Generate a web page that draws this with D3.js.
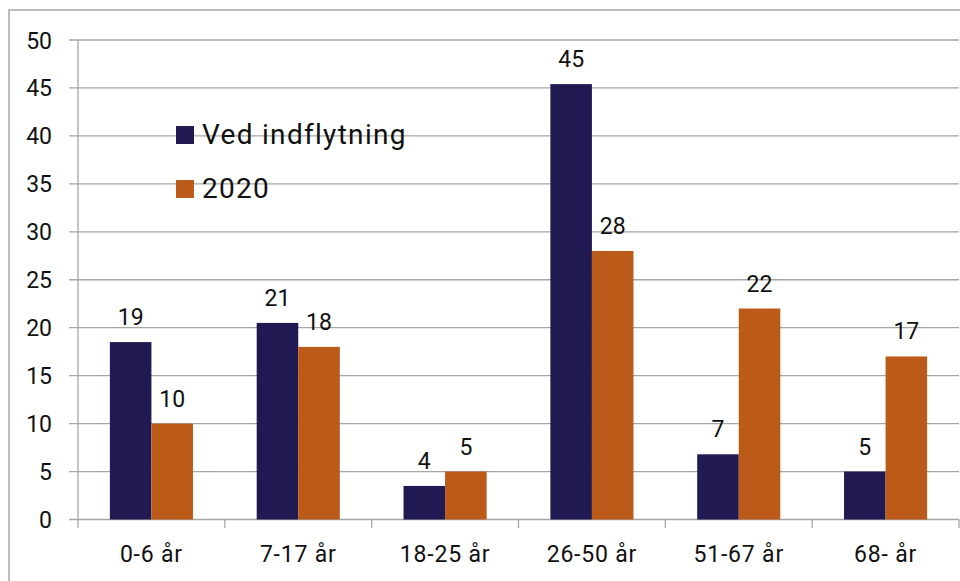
<!DOCTYPE html>
<html>
<head>
<meta charset="utf-8">
<script src="https://cdn.jsdelivr.net/npm/d3@7"></script>
<style>
  body { margin: 0; background: #fff; }
  svg { display: block; font-family: Roboto, "Noto Sans", sans-serif; }
</style>
</head>
<body>
<div class="chart"></div>
<script>
var categories = ["0-6 år", "7-17 år", "18-25 år", "26-50 år", "51-67 år", "68- år"];
var seriesNames = ["Ved indflytning", "2020"];
var vedIndflytning = [18.5, 20.5, 3.5, 45.4, 6.8, 5.0];
var y2020 = [10.0, 18.0, 5.0, 28.0, 22.0, 17.0];
var yTicks = [0, 5, 10, 15, 20, 25, 30, 35, 40, 45, 50];
var colors = ["#211a52", "#bc5a1a"];

(function() {
  var width = 960, height = 581;
  var plotLeft = 78, plotRight = 959, plotTop = 40, plotBottom = 519.5;

  var svg = d3.select(".chart").append("svg")
    .attr("width", width)
    .attr("height", height);

  // outer frame
  svg.append("rect")
    .attr("x", 9).attr("y", 10)
    .attr("width", 1000).attr("height", 700)
    .attr("fill", "none")
    .attr("stroke", "#a6a6a6")
    .attr("stroke-width", 1.5);

  var x0 = d3.scaleBand().domain(categories).range([plotLeft, plotRight]).padding(0);
  var bw = x0.bandwidth();
  var x1 = d3.scaleBand().domain([0, 1]).range([bw * 0.217, bw * 0.783]).padding(0);
  var y = d3.scaleLinear().domain([0, 50]).range([plotBottom, plotTop]);

  // gridlines
  svg.append("g").selectAll("line")
    .data(yTicks)
    .enter().append("line")
    .attr("x1", 69).attr("x2", plotRight)
    .attr("y1", function(d) { return y(d); })
    .attr("y2", function(d) { return y(d); })
    .attr("stroke", "#a6a6a6")
    .attr("stroke-width", 1.3);

  // y axis labels
  svg.append("g").selectAll("text")
    .data(yTicks)
    .enter().append("text")
    .attr("x", 52)
    .attr("y", function(d) { return y(d) + 8.5; })
    .attr("text-anchor", "end")
    .attr("font-size", 23)
    .attr("fill", "#111")
    .text(function(d) { return d; });

  // y axis line
  svg.append("line")
    .attr("x1", plotLeft).attr("x2", plotLeft)
    .attr("y1", plotTop).attr("y2", 528)
    .attr("stroke", "#a6a6a6").attr("stroke-width", 1.3);

  // x ticks
  var tickXs = categories.map(function(c) { return x0(c); }).concat([plotRight]);
  svg.append("g").selectAll("line")
    .data(tickXs.slice(1))
    .enter().append("line")
    .attr("x1", function(d) { return d; })
    .attr("x2", function(d) { return d; })
    .attr("y1", plotBottom).attr("y2", 528)
    .attr("stroke", "#a6a6a6").attr("stroke-width", 1.3);

  // x labels
  svg.append("g").selectAll("text")
    .data(categories)
    .enter().append("text")
    .attr("x", function(d) { return x0(d) + bw / 2; })
    .attr("y", 562)
    .attr("text-anchor", "middle")
    .attr("font-size", 23)
    .attr("letter-spacing", 0.8)
    .attr("fill", "#111")
    .text(function(d) { return d; });

  var table = categories.map(function(c, i) {
    return { cat: c, values: [vedIndflytning[i], y2020[i]] };
  });

  var groups = svg.append("g").selectAll("g")
    .data(table)
    .enter().append("g")
    .attr("transform", function(d) { return "translate(" + x0(d.cat) + ",0)"; });

  groups.selectAll("rect")
    .data(function(d) { return d.values; })
    .enter().append("rect")
    .attr("x", function(d, i) { return x1(i); })
    .attr("width", x1.bandwidth())
    .attr("y", function(d) { return y(d); })
    .attr("height", function(d) { return plotBottom - y(d); })
    .attr("fill", function(d, i) { return colors[i]; });

  groups.selectAll("text")
    .data(function(d) { return d.values; })
    .enter().append("text")
    .attr("x", function(d, i) { return x1(i) + x1.bandwidth() / 2; })
    .attr("y", function(d) { return y(d) - 17; })
    .attr("text-anchor", "middle")
    .attr("font-size", 23)
    .attr("fill", "#111")
    .text(function(d) { return Math.round(d); });

  // legend
  var legend = svg.append("g").selectAll("g")
    .data(seriesNames)
    .enter().append("g")
    .attr("transform", function(d, i) { return "translate(176," + (126 + i * 54) + ")"; });

  legend.append("rect")
    .attr("width", 18).attr("height", 18)
    .attr("fill", function(d, i) { return colors[i]; });

  legend.append("text")
    .attr("x", 26)
    .attr("y", 18)
    .attr("font-size", 28)
    .attr("letter-spacing", 1.3)
    .attr("fill", "#111")
    .text(function(d) { return d; });
})();
</script>
</body>
</html>
